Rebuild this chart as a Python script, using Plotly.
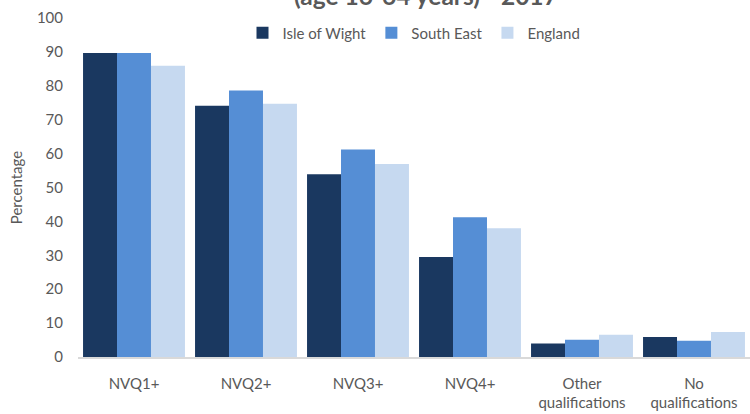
import plotly.graph_objects as go

categories = ["NVQ1+", "NVQ2+", "NVQ3+", "NVQ4+", "Other<br>qualifications", "No<br>qualifications"]
isle_of_wight = [89.7, 74.1, 53.9, 29.5, 4.0, 5.9]
south_east = [89.7, 78.6, 61.2, 41.2, 5.1, 4.8]
england = [85.9, 74.7, 56.9, 38.0, 6.6, 7.4]
y_ticks = [0, 10, 20, 30, 40, 50, 60, 70, 80, 90, 100]

FONT = "Lato"
GREY = "#595959"
PLOT_H = 414 - 18 - 57

fig = go.Figure()
for name, vals, col in [("Isle of Wight", isle_of_wight, "#1A3860"),
                        ("South East", south_east, "#558ED5"),
                        ("England", england, "#C6D9F0")]:
    fig.add_trace(go.Bar(x=categories, y=vals, name=name, marker=dict(color=col, line=dict(width=0))))

fig.update_layout(
    width=750, height=414,
    margin=dict(l=78, r=0, t=18, b=57, autoexpand=False),
    paper_bgcolor="white", plot_bgcolor="white",
    barmode="group", bargap=0.09, bargroupgap=0,
    font=dict(family=FONT, color=GREY, size=15),
    showlegend=True,
    legend=dict(orientation="h", x=0.5, xanchor="center", y=1 - 15 / PLOT_H, yanchor="middle",
                font=dict(size=15, color=GREY), itemwidth=30,
                traceorder="normal", bgcolor="rgba(0,0,0,0)"),
    annotations=[dict(text="<b>(age 16-64 years) - 2017</b>", xref="paper", yref="paper",
                      x=0.518, y=1 + 22.5 / PLOT_H, xanchor="center", yanchor="middle", showarrow=False,
                      font=dict(size=24.5, color=GREY, family=FONT))],
)
fig.update_xaxes(showline=True, linecolor="#D9D9D9", linewidth=1.5, ticks="", automargin=False,
                 tickfont=dict(size=15, color=GREY), showgrid=False, ticklabelstandoff=12)
fig.update_yaxes(range=[0, 100], tickvals=y_ticks, showgrid=False, zeroline=False, automargin=False,
                 showline=False, ticks="", tickfont=dict(size=15, color=GREY),
                 title=dict(text="Percentage", font=dict(size=15, color=GREY), standoff=10),
                 ticklabelstandoff=14)

fig.write_html("out.html", config={"displayModeBar": False},
               post_script="document.body.style.margin='0';document.body.style.overflow='hidden';")
